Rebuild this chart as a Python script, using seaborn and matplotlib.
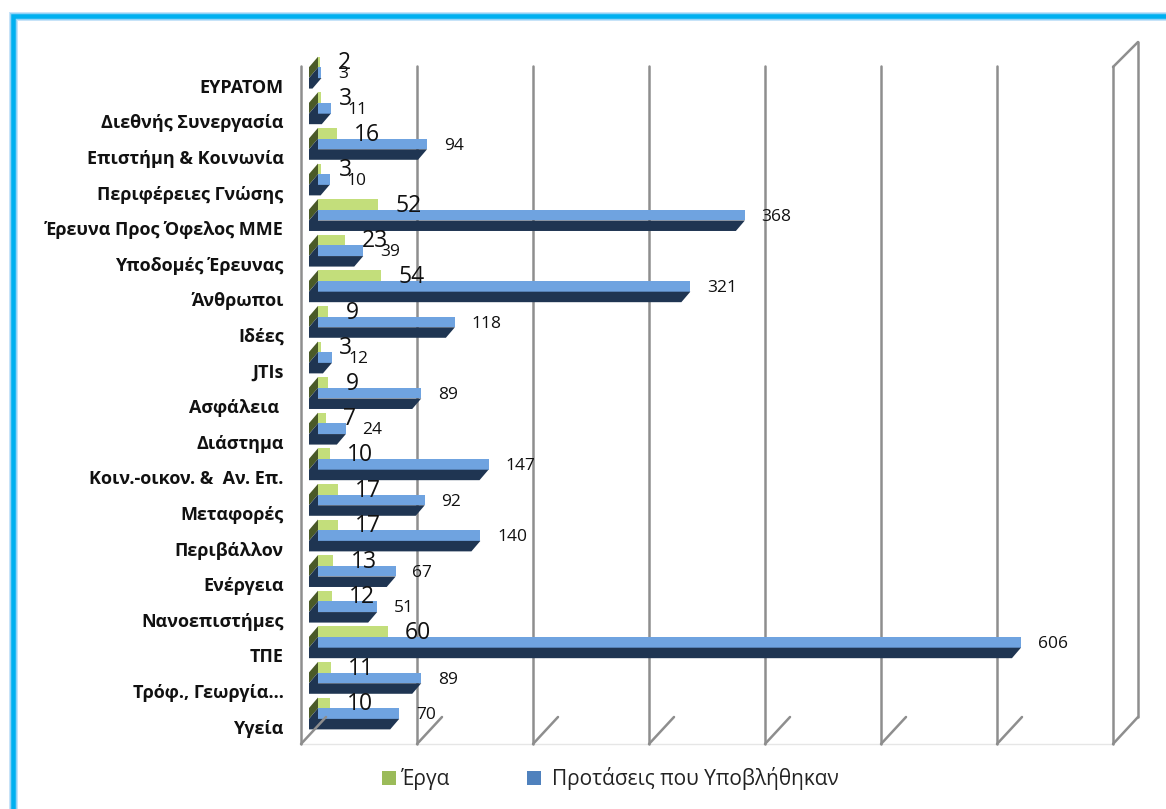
import numpy as np
import pandas as pd
import matplotlib
matplotlib.use("Agg")
import matplotlib.pyplot as plt
from matplotlib.lines import Line2D
from matplotlib.patches import Patch, Polygon
import seaborn as sns

categories = ["ΕΥΡΑΤΟΜ", "Διεθνής Συνεργασία", "Επιστήμη & Κοινωνία", "Περιφέρειες Γνώσης",
              "Έρευνα Προς Όφελος ΜΜΕ", "Υποδομές Έρευνας", "Άνθρωποι", "Ιδέες", "JTIs",
              "Ασφάλεια ", "Διάστημα", "Κοιν.-οικον. &  Αν. Επ.", "Μεταφορές", "Περιβάλλον",
              "Ενέργεια", "Νανοεπιστήμες", "ΤΠΕ", "Τρόφ., Γεωργία…", "Υγεία"]
erga = [2, 3, 16, 3, 52, 23, 54, 9, 3, 9, 7, 10, 17, 17, 13, 12, 60, 11, 10]
protaseis = [3, 11, 94, 10, 368, 39, 321, 118, 12, 89, 24, 147, 92, 140, 67, 51, 606, 89, 70]
series_names = ["Έργα", "Προτάσεις που Υποβλήθηκαν"]
grid_values = [0, 100, 200, 300, 400, 500, 600, 700]

W, H = 1166, 809
sns.set_theme(style="white")
plt.rcParams["font.family"] = ["Open Sans", "DejaVu Sans"]

PX_X, PX_Y = 1.16, 35.6          # pixels per value unit, per row
X0_BACK, Y0 = 318, 67.4          # pixel of value 0 (bars), pixel of first row
X0_FRONT = 301
AX_L, AX_R, AX_T, AX_B = 301, 1140, 40, 746

fig = plt.figure(figsize=(W / 100, H / 100), dpi=100, facecolor="white")
ax = fig.add_axes([AX_L / W, 1 - AX_B / H, (AX_R - AX_L) / W, (AX_B - AX_T) / H])

df = pd.DataFrame({
    "cat": categories * 2,
    "value": erga + protaseis,
    "series": [series_names[0]] * len(categories) + [series_names[1]] * len(categories),
})
LIGHT = ["#C3DE7B", "#6FA3E0"]
sns.barplot(data=df, y="cat", x="value", hue="series", order=categories, hue_order=series_names,
            palette=LIGHT, width=0.6, dodge=True, legend=False, saturation=1, ax=ax, zorder=3,
            linewidth=0)


def vx(px):
    return (px - X0_BACK) / PX_X


def ry(py):
    return (py - Y0) / PX_Y


ax.set_xlim(vx(AX_L), vx(AX_R))
ax.set_ylim(ry(AX_B), ry(AX_T))
for s in ax.spines.values():
    s.set_visible(False)
ax.set_xlabel("")
ax.set_ylabel("")
ax.set_xticks([])
ax.grid(False)
ax.set_yticks(np.arange(len(categories)) + 18.5 / PX_Y, labels=categories)
ax.tick_params(axis="y", left=False, pad=6.5)
for t in ax.get_yticklabels():
    t.set_fontweight("bold")
    t.set_fontsize(13)
    t.set_color("#111111")

# depth faces
dx, dy = 9 / PX_X, 10.5 / PX_Y
DARK, OLIVE = "#1F3552", "#4A5A28"
green, blue = ax.containers[0], ax.containers[1]
for bar in green:
    y0, y1 = bar.get_y(), bar.get_y() + bar.get_height()
    ax.add_patch(Polygon([(0, y0), (0, y1), (-dx, y1 + dy), (-dx, y0 + dy)], fc=OLIVE, lw=0, zorder=3))
for bar in blue:
    w = bar.get_width()
    y0, y1 = bar.get_y(), bar.get_y() + bar.get_height()
    ax.add_patch(Polygon([(0, y0), (0, y1), (w, y1), (w - dx, y1 + dy), (-dx, y1 + dy), (-dx, y1)],
                         fc=DARK, lw=0, zorder=3))

# grid and walls
GREY = "#8E8E8E"
lw = 1.8
front_x = [vx(X0_FRONT + PX_X * g) for g in grid_values]
ax.plot([front_x[0], front_x[-1]], [ry(744)] * 2, color="#E6E6E6", lw=1, clip_on=False, zorder=1)
for fx in front_x:
    ax.plot([fx, fx], [ry(66), ry(744)], color=GREY, lw=lw, clip_on=False, zorder=2)
ddx = 25 / PX_X
for fx in front_x:
    ax.plot([fx, fx + ddx], [ry(744), ry(717)], color=GREY, lw=lw, clip_on=False, zorder=5)
right = front_x[-1]
ax.plot([right + ddx, right + ddx], [ry(42), ry(717)], color=GREY, lw=lw, clip_on=False, zorder=2)
ax.plot([right, right + ddx], [ry(67), ry(42)], color=GREY, lw=lw, clip_on=False, zorder=2)

# value labels
for bars, vals, fs, off in ((green, erga, 16.5, (12.5, -1)), (blue, protaseis, 12.5, (12, -1.2))):
    for bar, v in zip(bars, vals):
        ax.annotate(str(v), (bar.get_width(), bar.get_y() + bar.get_height() / 2),
                    xytext=off, textcoords="offset points", va="center", ha="left",
                    fontsize=fs, color="#111111", zorder=6, annotation_clip=False)

# legend entries
fs = 15
for colour, name, left, pad in (("#9BBB59", series_names[0], 382, 5), ("#4F81BD", series_names[1], 527, 11)):
    fig.legend(handles=[Patch(fc=colour, lw=0, label=name)],
               loc="center left", bbox_to_anchor=(left / W, 1 - 779 / H), frameon=False,
               fontsize=fs, handlelength=10 / fs, handleheight=10 / fs,
               handletextpad=pad * 0.72 / fs, labelcolor="#222222", borderpad=0, borderaxespad=0)

# outer frame
for w_px, col in ((9, "#C7E3F8"), (7, "#8FD2F7"), (4.5, "#00B0F0")):
    fig.add_artist(Line2D([13 / W, 13 / W, 1.01], [-0.01, 1 - 16 / H, 1 - 16 / H],
                          color=col, lw=w_px * 0.72, solid_joinstyle="miter"))

fig.savefig("out.png", dpi=100)
